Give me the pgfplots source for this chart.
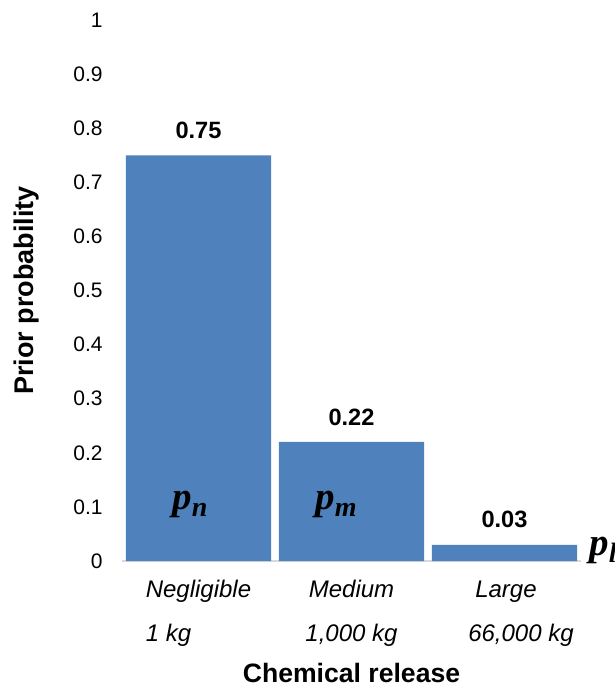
\documentclass[border=0pt]{standalone}
\usepackage{fontspec}
\setmainfont{Liberation Sans}
\newfontfamily\tnr{Liberation Serif}
\usepackage{pgfplots}
\pgfplotsset{compat=1.18}
\definecolor{barblue}{HTML}{4F81BD}
\definecolor{axisgray}{HTML}{D9D9D9}
\newcommand{\plab}[1]{{\tnr\bfseries\itshape\fontsize{19.5}{19.5}\selectfont p\raisebox{-3.5pt}{\fontsize{14}{14}\selectfont #1}}}
\begin{document}
\begin{tikzpicture}
\begin{axis}[
  scale only axis, width=229.5pt, height=270.5pt,
  xmin=-0.5, xmax=2.5, ymin=0, ymax=1,
  ybar, bar width=0.948,
  axis line style={draw=none},
  tick style={draw=none},
  ytick={0,0.1,0.2,0.3,0.4,0.5,0.6,0.7,0.8,0.9,1},
  /pgf/number format/assume math mode=true,
  yticklabel style={font=\fontsize{10.5}{12}\selectfont, xshift=-6.2pt},
  xtick={0,1,2},
  xticklabels={
    {\begin{tabular}{@{}l@{}}Negligible\\[9.3pt]1 kg\end{tabular}},
    {\begin{tabular}{@{}c@{}}Medium\\[9.3pt]1,000 kg\end{tabular}},
    {\begin{tabular}{@{}l@{}}\hspace*{20pt}Large\\[9.3pt]\hspace*{16.5pt}66,000 kg\end{tabular}}
  },
  xticklabel style={font=\itshape\fontsize{12}{13}\selectfont, yshift=-1.1pt},
  extra y ticks={0}, extra y tick labels={},
  extra y tick style={grid=major, major grid style={axisgray, line width=1pt}},
  nodes near coords={\pgfmathprintnumber[fixed,zerofill,precision=2]{\pgfplotspointmeta}},
  nodes near coords style={font=\bfseries\fontsize{11.8}{13}\selectfont, yshift=4.8pt, text=black},
  clip=false,
  xlabel={Chemical release}, ylabel={Prior probability},
  xlabel style={font=\bfseries\fontsize{13.3}{16}\selectfont, at={(axis description cs:0.5,-0.2255)}, anchor=base},
  ylabel style={font=\bfseries\fontsize{13.5}{16}\selectfont, at={(axis description cs:-0.1935,0.5)}, anchor=base, rotate=0},
]
\addplot[fill=barblue, draw=none] coordinates {(0,0.75) (1,0.22) (2,0.03)};
\node[anchor=base west, inner sep=0pt] at (axis cs:-0.173,0.096) {\plab{n}};
\node[anchor=base west, inner sep=0pt] at (axis cs:0.761,0.096) {\plab{m}};
\node[anchor=base west, inner sep=0pt] at (axis cs:2.552,0.011) {\plab{l}};
\end{axis}
\pgfresetboundingbox
\useasboundingbox (-61pt,-62.5pt) rectangle (246.5pt,280.5pt);
\end{tikzpicture}
\end{document}
